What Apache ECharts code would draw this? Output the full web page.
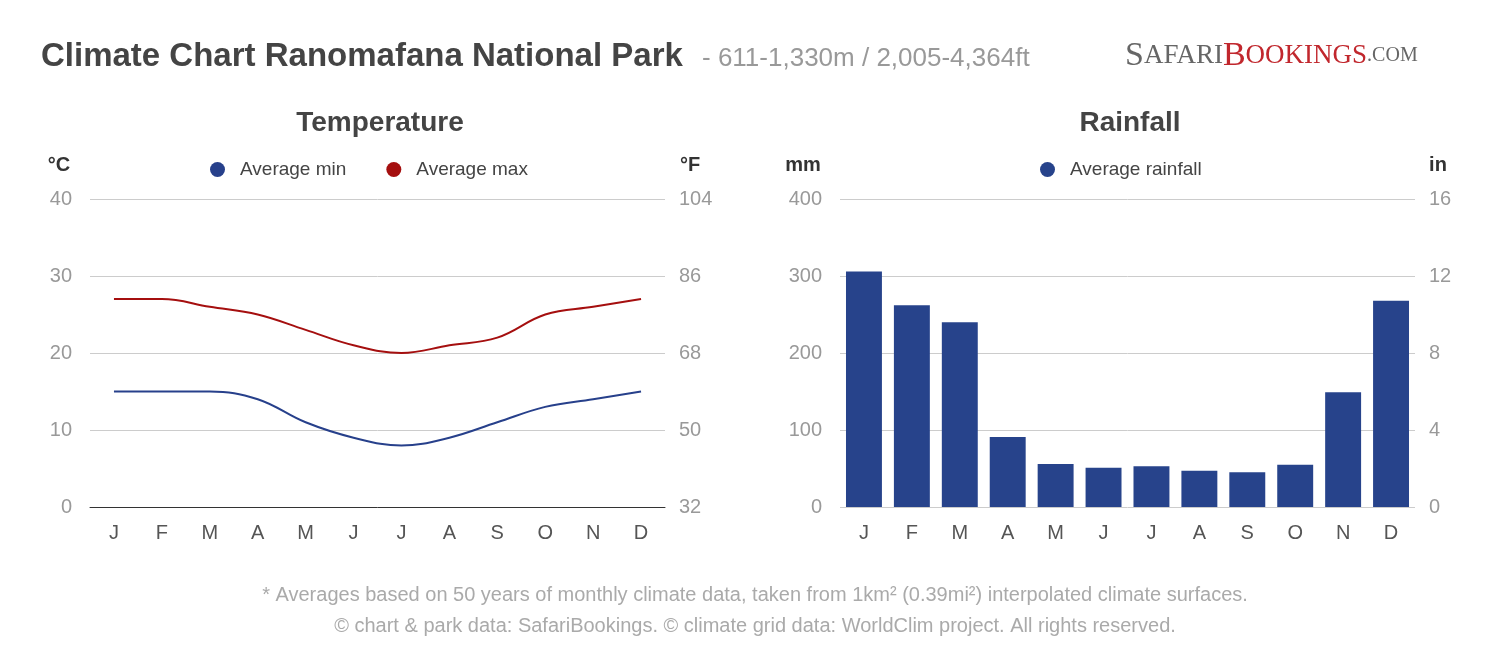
<!DOCTYPE html>
<html>
<head>
<meta charset="UTF-8">
<script src="https://cdn.jsdelivr.net/npm/echarts@6/dist/echarts.min.js"></script>
<style>body{margin:0;background:#fff}#c{width:1500px;height:652px}</style>
</head>
<body>
<div id="c"></div>
<script>
var months = ['J','F','M','A','M','J','J','A','S','O','N','D'];
var tempMin = [15,15,15,14,11,9,8,9,11,13,14,15];
var tempMax = [27,27,26,25,23,21,20,21,22,25,26,27];
var rainfall = [306,262,240,91,56,51,53,47,45,55,149,268];
var fLabels = {0:'32',10:'50',20:'68',30:'86',40:'104'};
var inLabels = {0:'0',100:'4',200:'8',300:'12',400:'16'};

var chart = echarts.init(document.getElementById('c'));
var gray = '#999', font = 'Arial, Liberation Sans, sans-serif';
var axisTxt = {color: gray, fontSize: 20, fontFamily: font};
var split = {lineStyle: {color: '#ccc'}};
var nameStyle = {fontSize: 20, fontWeight: 'bold', color: '#333', align: 'center'};
var serif = 'Liberation Serif';

chart.setOption({
  animation: false,
  textStyle: {fontFamily: font},
  title: [
    {text: 'Climate Chart Ranomafana National Park', left: 36, top: 35,
     textStyle: {fontSize: 33, fontWeight: 'bold', color: '#444'}},
    {text: '- 611-1,330m / 2,005-4,364ft', left: 697, top: 41,
     textStyle: {fontSize: 26, fontWeight: 'normal', color: '#999'}},
    {text: '{a|S}{b|AFARI}{c|B}{d|OOKINGS}{e|.COM}', left: 1120, top: 34,
     textStyle: {rich: {a: {fontSize: 34, color: '#666', fontFamily: serif, fontWeight: 'normal'},
       b: {fontSize: 27, color: '#666', fontFamily: serif, fontWeight: 'normal'},
       c: {fontSize: 34, color: '#c1272d', fontFamily: serif, fontWeight: 'normal'},
       d: {fontSize: 27, color: '#c1272d', fontFamily: serif, fontWeight: 'normal'},
       e: {fontSize: 20, color: '#666', fontFamily: serif, fontWeight: 'normal'}}}},
    {text: 'Temperature', left: 375, top: 104, textAlign: 'center',
     textStyle: {fontSize: 28, fontWeight: 'bold', color: '#444'}},
    {text: 'Rainfall', left: 1125, top: 104, textAlign: 'center',
     textStyle: {fontSize: 28, fontWeight: 'bold', color: '#444'}},
    {text: '* Averages based on 50 years of monthly climate data, taken from 1km² (0.39mi²) interpolated climate surfaces.',
     left: 750, top: 580, textAlign: 'center', textStyle: {fontSize: 20, fontWeight: 'normal', color: '#aaa'}},
    {text: '© chart & park data: SafariBookings. © climate grid data: WorldClim project. All rights reserved.',
     left: 750, top: 611, textAlign: 'center', textStyle: {fontSize: 20, fontWeight: 'normal', color: '#aaa'}}
  ],
  legend: [
    {data: ['Average min', 'Average max'], left: 205, top: 155, icon: 'circle', itemWidth: 15, itemHeight: 15, itemGap: 40,
     textStyle: {fontSize: 19, color: '#444', padding: [0, 0, 0, 10]}},
    {data: ['Average rainfall'], left: 1035, top: 155, icon: 'circle', itemWidth: 15, itemHeight: 15,
     textStyle: {fontSize: 19, color: '#444', padding: [0, 0, 0, 10]}}
  ],
  grid: [
    {left: 90, right: 835, top: 199, bottom: 145},
    {left: 840, right: 85, top: 199, bottom: 145}
  ],
  xAxis: [
    {type: 'category', gridIndex: 0, data: months,
     axisLine: {lineStyle: {color: '#333'}}, axisTick: {show: false}, axisLabel: Object.assign({margin: 16}, axisTxt, {color: '#555'})},
    {type: 'category', gridIndex: 1, data: months,
     axisLine: {show: false}, axisTick: {show: false}, axisLabel: Object.assign({margin: 16}, axisTxt, {color: '#555'})}
  ],
  yAxis: [
    {type: 'value', gridIndex: 0, min: 0, max: 40, interval: 10, name: '°C', nameGap: 24,
     nameTextStyle: Object.assign({padding: [0, 62, 0, 0]}, nameStyle),
     axisLabel: Object.assign({margin: 18}, axisTxt), splitLine: split, axisLine: {show: false}},
    {type: 'value', gridIndex: 0, position: 'right', min: 0, max: 40, interval: 10, name: '°F', nameGap: 24,
     nameTextStyle: Object.assign({padding: [0, 0, 0, 50]}, nameStyle),
     axisLabel: Object.assign({margin: 14, formatter: function (v) { return fLabels[v]; }}, axisTxt),
     splitLine: {show: false}, axisLine: {show: false}},
    {type: 'value', gridIndex: 1, min: 0, max: 400, interval: 100, name: 'mm', nameGap: 24,
     nameTextStyle: Object.assign({padding: [0, 74, 0, 0]}, nameStyle),
     axisLabel: Object.assign({margin: 18}, axisTxt), splitLine: split, axisLine: {show: false}},
    {type: 'value', gridIndex: 1, position: 'right', min: 0, max: 400, interval: 100, name: 'in', nameGap: 24,
     nameTextStyle: Object.assign({padding: [0, 0, 0, 46]}, nameStyle),
     axisLabel: Object.assign({margin: 14, formatter: function (v) { return inLabels[v]; }}, axisTxt),
     splitLine: {show: false}, axisLine: {show: false}}
  ],
  series: [
    {name: 'Average min', type: 'line', xAxisIndex: 0, yAxisIndex: 0, data: tempMin, smooth: 0.4,
     symbol: 'none', lineStyle: {width: 2, color: '#27408b'}, itemStyle: {color: '#27408b'}},
    {name: 'Average max', type: 'line', xAxisIndex: 0, yAxisIndex: 0, data: tempMax, smooth: 0.4,
     symbol: 'none', lineStyle: {width: 2, color: '#a50f0f'}, itemStyle: {color: '#a50f0f'}},
    {name: 'Average rainfall', type: 'bar', xAxisIndex: 1, yAxisIndex: 2, data: rainfall, barWidth: '75%',
     itemStyle: {color: '#27438b'}}
  ]
});
</script>
</body>
</html>
